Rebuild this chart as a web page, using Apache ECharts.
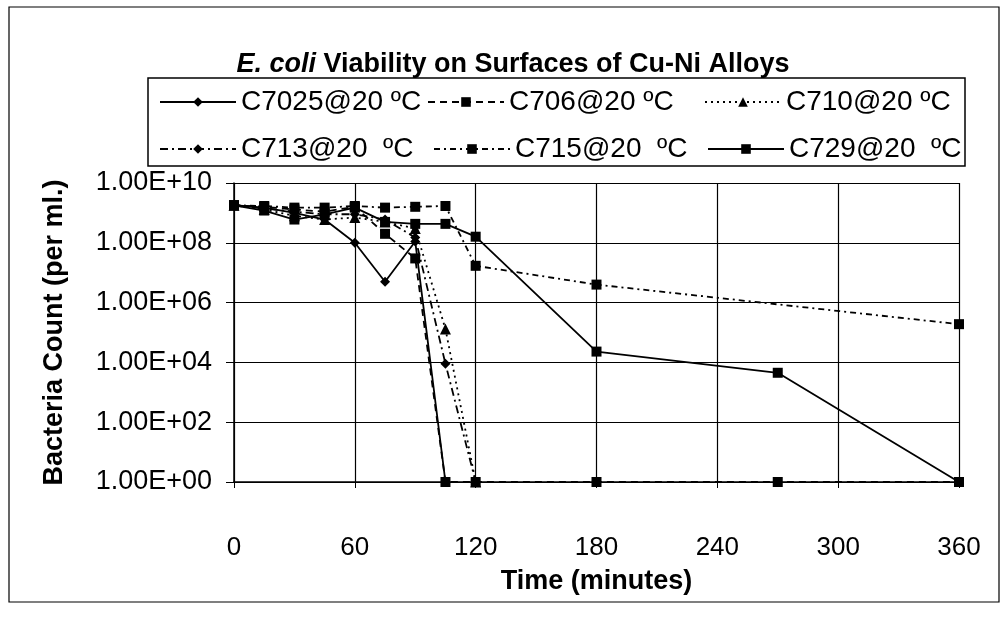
<!DOCTYPE html>
<html>
<head>
<meta charset="utf-8">
<script src="https://cdn.jsdelivr.net/npm/echarts@6/dist/echarts.min.js"></script>
<style>
html,body{margin:0;padding:0;background:#fff;}
#chart{width:1007px;height:622px;}
</style>
</head>
<body>
<div id="chart"></div>
<script>
// ---- data ----
const times = [0, 15, 30, 45, 60, 75, 90, 105, 120, 180, 270, 360];
const seriesNames = ['C7025@20 ºC', 'C706@20 ºC', 'C710@20 ºC', 'C713@20  ºC', 'C715@20  ºC', 'C729@20  ºC'];
const c7025 = [1.8e9, 1.5e9, 1.0e9, 6e8, 1.0e8, 5e6, 1.1e8, 1, null, null, null, null];
const c706  = [1.8e9, 1.6e9, 1.3e9, 1.1e9, 1.6e9, 2e8, 3e7, 1, 1, 1, 1, 1];
const c710  = [1.8e9, 1.3e9, 8e8, 6e8, 7e8, 5e8, 3e8, 1.3e5, 1, null, null, null];
const c713  = [1.8e9, 1.4e9, 1.1e9, 9e8, 9e8, 6e8, 1.5e8, 9e3, 1, null, null, null];
const c715  = [1.8e9, 1.7e9, 1.5e9, 1.5e9, 1.7e9, 1.5e9, 1.6e9, 1.7e9, 1.7e7, 4e6, null, 1.9e5];
const c729  = [1.8e9, 1.2e9, 6e8, 9e8, 1.5e9, 5e8, 4.3e8, 4.3e8, 1.6e8, 2.3e4, 4.5e3, 1];
const xTicks = [0, 60, 120, 180, 240, 300, 360];

const values = [c7025, c706, c710, c713, c715, c729];
const symbols = ['diamond', 'rect', 'triangle', 'diamond', 'rect', 'rect'];
const dashes = ['solid', [7, 5], [2, 4], [8, 4, 2, 4], [6, 4, 2, 4], 'solid'];

const FONT = 'Liberation Sans';
const chart = echarts.init(document.getElementById('chart'), null, {renderer: 'canvas'});

const series = values.map((arr, i) => ({
  name: seriesNames[i],
  type: 'line',
  data: times.map((t, k) => [t, arr[k]]),
  connectNulls: true,
  symbol: symbols[i],
  symbolSize: symbols[i] === 'triangle' ? 11 : 10,
  itemStyle: {color: '#000'},
  lineStyle: {color: '#000', width: 1.8, type: dashes[i]},
  emphasis: {disabled: true},
  animation: false
}));

const legendLefts = [154, 422, 699, 154, 428, 702];
const legendTops = [83, 83, 83, 130, 130, 130];
const legends = seriesNames.map((n, i) => ({
  data: [n],
  left: legendLefts[i],
  top: legendTops[i],
  itemWidth: 76,
  itemHeight: 12,
  itemGap: 0,
  textStyle: {fontFamily: FONT, fontSize: 28, color: '#000', padding: [0, 0, 0, 0]},
  inactiveColor: '#000',
  selectedMode: false
}));

chart.setOption({
  backgroundColor: '#fff',
  animation: false,
  title: {
    text: '{i|E. coli} Viability on Surfaces of Cu-Ni Alloys',
    left: 508,
    textAlign: 'center',
    top: 46,
    textStyle: {
      fontFamily: FONT, fontSize: 27, fontWeight: 'bold', color: '#000',
      rich: {i: {fontFamily: FONT, fontSize: 27, fontWeight: 'bold', fontStyle: 'italic', color: '#000'}}
    }
  },
  legend: legends,
  graphic: [
    {type: 'rect', shape: {x: 9, y: 7, width: 990, height: 595}, style: {fill: 'none', stroke: '#000', lineWidth: 1.2}, silent: true, z: -1},
    {type: 'rect', shape: {x: 148, y: 78, width: 817, height: 88}, style: {fill: '#fff', stroke: '#000', lineWidth: 1.5}, silent: true, z: -1}
  ],
  grid: {left: 234, right: 48, top: 183, bottom: 140, containLabel: false},
  xAxis: {
    type: 'value',
    min: 0, max: 360, interval: 60,
    name: 'Time (minutes)',
    nameLocation: 'middle',
    nameGap: 86,
    nameTextStyle: {fontFamily: FONT, fontSize: 27, fontWeight: 'bold', color: '#000'},
    axisLine: {show: true, lineStyle: {color: '#000', width: 1.5}},
    axisTick: {show: true, length: 6, lineStyle: {color: '#000'}},
    axisLabel: {fontFamily: FONT, fontSize: 26, color: '#000', margin: 53,
      formatter: v => xTicks.indexOf(v) >= 0 ? String(v) : ''},
    splitLine: {show: true, lineStyle: {color: '#000', width: 1.2}}
  },
  yAxis: {
    type: 'log',
    logBase: 10,
    min: 1, max: 1e10, interval: 2,
    name: 'Bacteria Count (per ml.)',
    nameLocation: 'middle',
    nameGap: 166,
    nameTextStyle: {fontFamily: FONT, fontSize: 27, fontWeight: 'bold', color: '#000'},
    axisLine: {show: true, lineStyle: {color: '#000', width: 1.5}},
    axisTick: {show: true, length: 8, lineStyle: {color: '#000'}},
    axisLabel: {fontFamily: FONT, fontSize: 27, color: '#000', margin: 22,
      formatter: v => {
        const e = Math.round(Math.log10(v));
        return '1.00E+' + (e < 10 ? '0' + e : String(e));
      }},
    splitLine: {show: true, lineStyle: {color: '#000', width: 1.2}},
    minorTick: {show: false}
  },
  series: series
});
</script>
</body>
</html>
